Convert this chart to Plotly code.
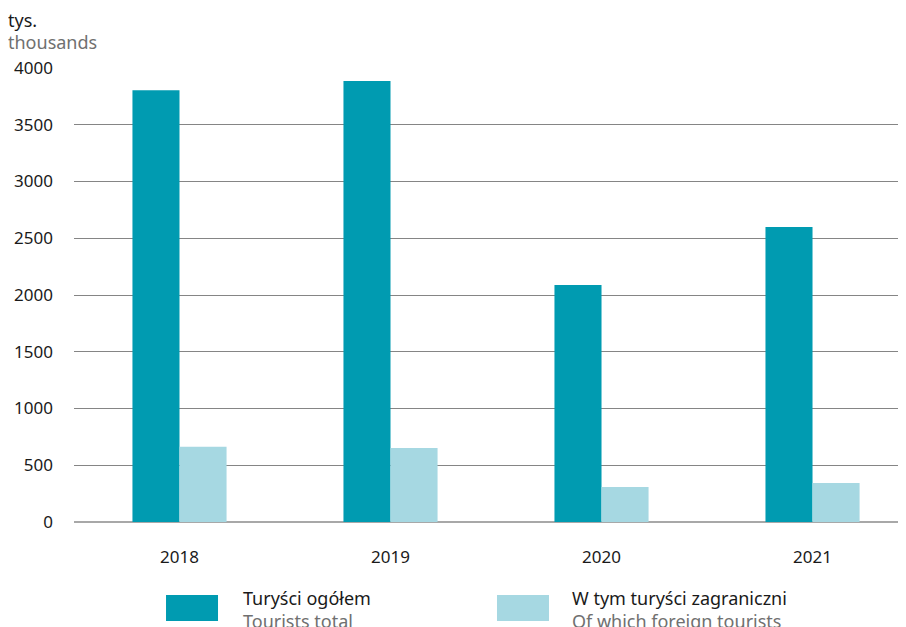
import plotly.graph_objects as go

years = ["2018", "2019", "2020", "2021"]
tourists_total = [3805, 3885, 2088, 2600]
foreign_tourists = [662, 652, 308, 344]
y_ticks = [0, 500, 1000, 1500, 2000, 2500, 3000, 3500, 4000]

DARK = "#009BB1"
LIGHT = "#A6D8E2"
FONT = "Noto Sans"

fig = go.Figure()
fig.add_trace(go.Bar(x=years, y=tourists_total, marker=dict(color=DARK, line=dict(width=0)),
                     name="Turyści ogółem", showlegend=False))
fig.add_trace(go.Bar(x=years, y=foreign_tourists, marker=dict(color=LIGHT, line=dict(width=0)),
                     name="W tym turyści zagraniczni", showlegend=False))

fig.update_layout(
    width=906, height=627,
    margin=dict(l=66, r=8, t=60, b=113, autoexpand=False),
    paper_bgcolor="white", plot_bgcolor="white",
    barmode="group", bargap=0.554, bargroupgap=0,
    font=dict(family=FONT, size=17, color="#1a1a1a"),
    xaxis=dict(range=[-0.5, 3.443], showgrid=False, zeroline=False, showline=False,
               ticks="", ticklabelstandoff=23, tickfont=dict(size=17)),
    yaxis=dict(range=[0, 4000], tickvals=y_ticks, showgrid=True, gridcolor="#858585",
               gridwidth=1, zeroline=True, zerolinecolor="#a8a8a8", zerolinewidth=2,
               ticks="", ticklabelstandoff=20, tickfont=dict(size=17)),
)

fig.add_annotation(text="tys.", xref="paper", yref="paper", x=-0.0800, y=1.106,
                   xanchor="left", yanchor="middle", showarrow=False, borderpad=0,
                   font=dict(size=18, color="#1a1a1a"))
fig.add_annotation(text="thousands", xref="paper", yref="paper", x=-0.0800, y=1.057,
                   xanchor="left", yanchor="middle", showarrow=False, borderpad=0,
                   font=dict(size=18, color="#707070"))

legend_items = [
    (DARK, 0.1106, 0.1731, 0.2007, "Turyści ogółem", "Tourists total"),
    (LIGHT, 0.5084, 0.5709, 0.596, "W tym turyści zagraniczni", "Of which foreign tourists"),
]
for color, x0, x1, tx, pl, en in legend_items:
    fig.add_shape(type="rect", xref="paper", yref="paper", x0=x0, x1=x1, y0=-0.218, y1=-0.1608,
                  fillcolor=color, line=dict(width=0))
    fig.add_annotation(text=pl, xref="paper", yref="paper", x=tx, y=-0.1674,
                       xanchor="left", yanchor="middle", showarrow=False,
                       font=dict(size=18, color="#1a1a1a"))
    fig.add_annotation(text=en, xref="paper", yref="paper", x=tx, y=-0.2170,
                       xanchor="left", yanchor="middle", showarrow=False,
                       font=dict(size=18, color="#707070"))

fig.write_html("out.html")
